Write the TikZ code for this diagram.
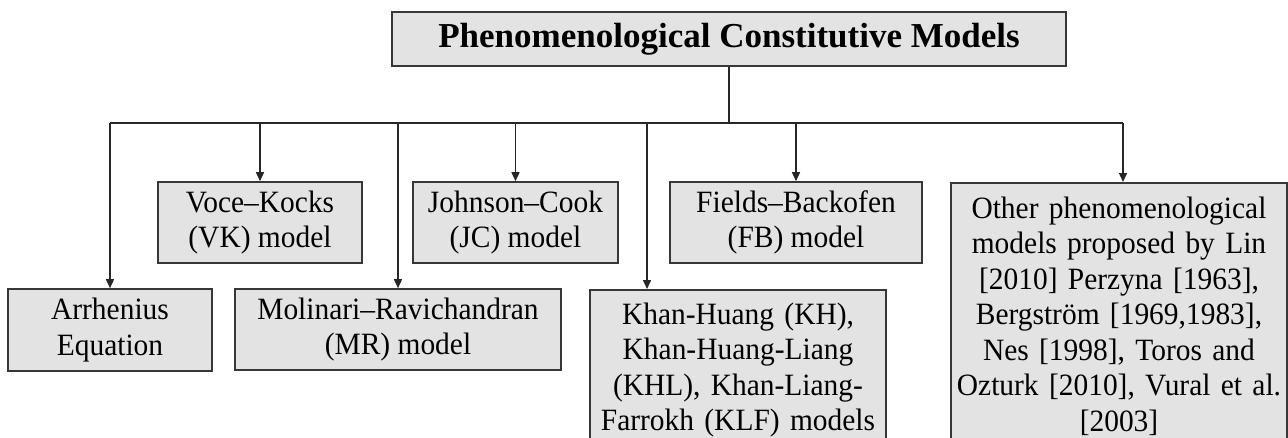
\documentclass[tikz,border=0pt]{standalone}
\usepackage{fontspec}
\setmainfont{Liberation Serif}[FakeStretch=0.95]
\newfontfamily\headfont{Liberation Serif}
\usetikzlibrary{arrows.meta}
\definecolor{boxfill}{RGB}{227,227,227}
\definecolor{boxline}{RGB}{55,55,55}
\begin{document}
\begin{tikzpicture}[x=1pt,y=-1pt,
  box/.style={draw=boxline, fill=boxfill, line width=1.6pt, inner sep=0pt,
    align=center, font=\fontsize{31}{35.5}\selectfont},
  link/.style={draw=black!85, line width=1.5pt},
  feed/.style={link, -{Triangle[length=9pt,width=8pt]}}]
\useasboundingbox (0,0) rectangle (1288,437);
\clip (0,0) rectangle (1288,437);

% root of the tree
\node[box, minimum width=674pt, minimum height=54pt,
  font=\headfont\bfseries\fontsize{35}{40}\selectfont] (top) at (729,39)
  {Phenomenological Constitutive Models};

% upper row of models
\node[box, minimum width=204pt, minimum height=81pt] (vk) at (260,222.5)
  {Voce--Kocks\\(VK) model};
\node[box, minimum width=205pt, minimum height=81pt] (jc) at (515.5,222.5)
  {Johnson--Cook\\(JC) model};
\node[box, minimum width=252pt, minimum height=81pt] (fb) at (796,222.5)
  {Fields--Backofen\\(FB) model};
\node[box, anchor=north, text width=336pt, inner ysep=14pt] (oth) at (1119,182)
  {Other phenomenological\\models proposed by Lin\\{[2010]} Perzyna [1963],\\
   Bergström [1969,1983],\\Nes [1998], Toros and\\Ozturk [2010], Vural et al.\\{[2003]}};

% lower row of models
\node[box, minimum width=204pt, minimum height=82pt] (arr) at (110,330)
  {Arrhenius\\Equation};
\node[box, minimum width=326pt, minimum height=81pt] (mr) at (398,329.5)
  {Molinari--Ravichandran\\(MR) model};
\node[box, anchor=north, text width=296pt, inner ysep=13pt] (kh) at (738,289)
  {Khan-Huang (KH),\\Khan-Huang-Liang\\(KHL), Khan-Liang-\\Farrokh (KLF) models};

% distribution bus
\coordinate (busmid) at (729,123);
\coordinate (busL) at (arr.north |- busmid);
\coordinate (busR) at (1123,123);
\coordinate (khin) at (647,289);
\coordinate (othin) at (busR |- oth.north);

\draw[link] (top.south) -- (busmid);
\draw[link] (busL) -- (busR);
\draw[feed] (busL) -- (arr.north);
\draw[feed] (vk.north |- busmid) -- (vk.north);
\draw[feed] (mr.north |- busmid) -- (mr.north);
\draw[feed] (jc.north |- busmid) -- (jc.north);
\draw[feed] (khin |- busmid) -- (khin);
\draw[feed] (fb.north |- busmid) -- (fb.north);
\draw[feed] (busR) -- (othin);
\end{tikzpicture}
\end{document}
